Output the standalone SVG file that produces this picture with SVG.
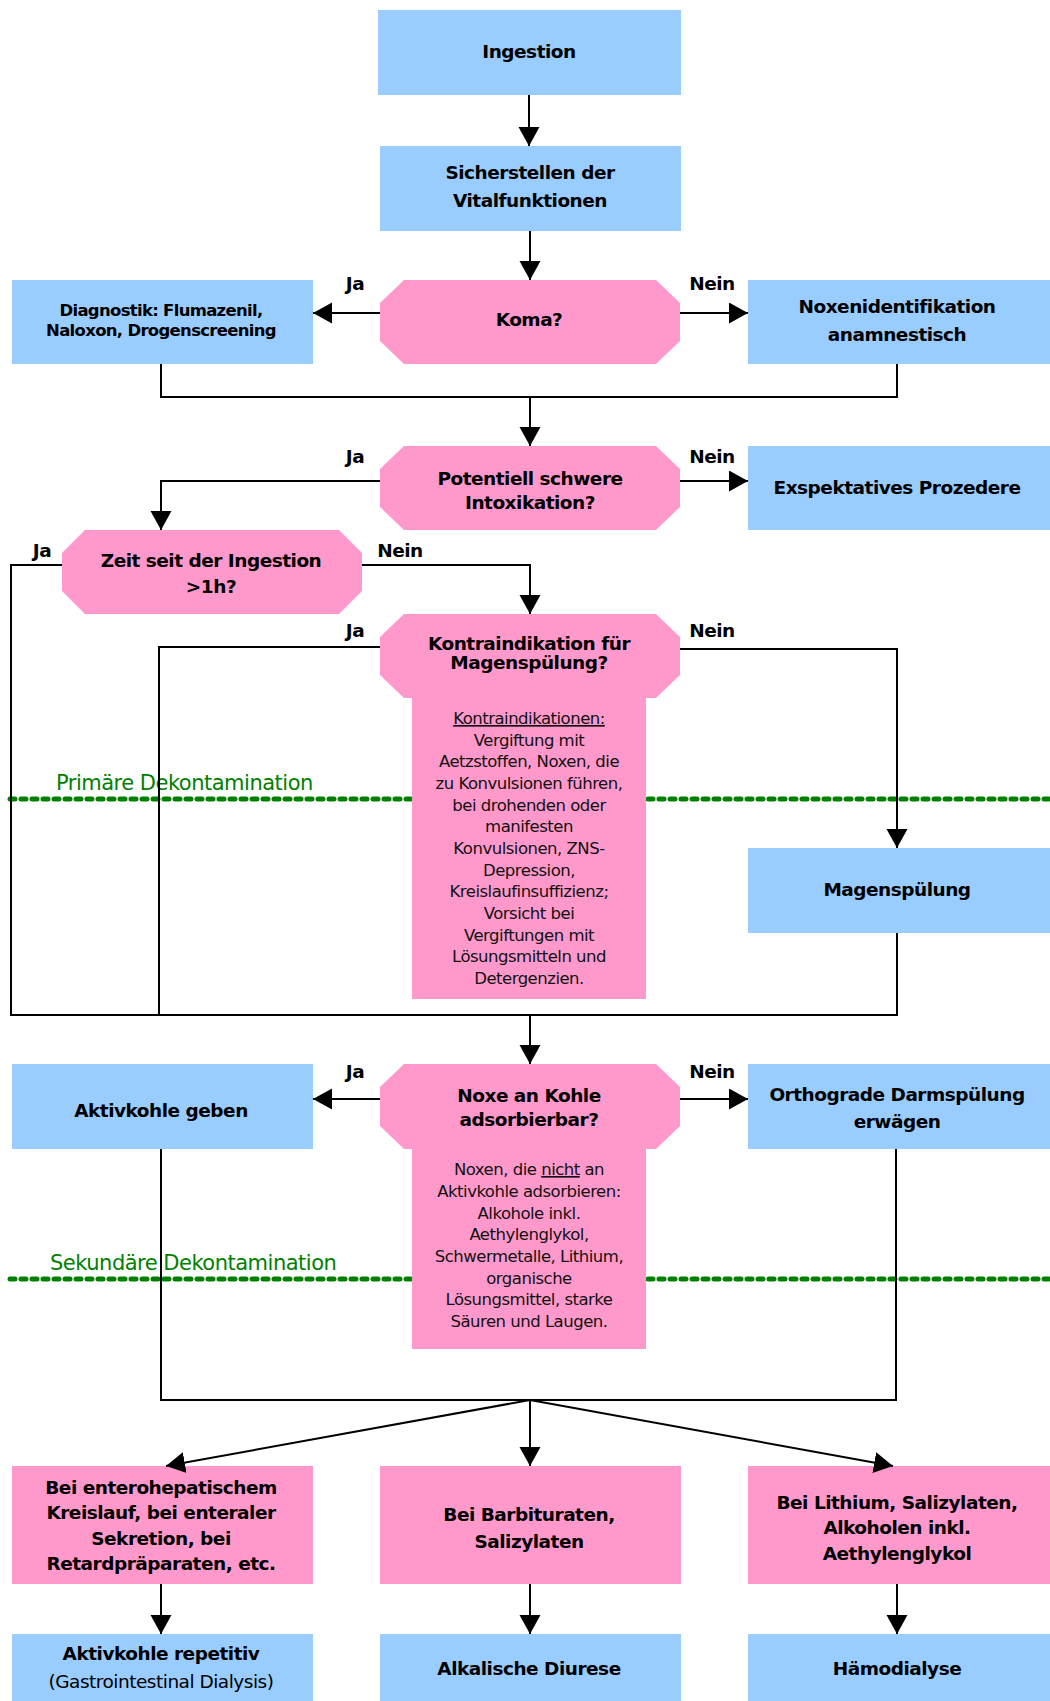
<svg xmlns="http://www.w3.org/2000/svg" width="1050" height="1701" viewBox="0 0 1050 1701">
<style>
.blue{fill:#99CCFF}
.pink{fill:#FF99CC}
.t{font-family:"DejaVu Sans","Liberation Sans",sans-serif;font-weight:bold;font-size:18.5px;letter-spacing:-0.5px;text-anchor:middle;fill:#000}
.m{font-size:16.5px;letter-spacing:-0.7px}
.s{font-family:"DejaVu Sans","Liberation Sans",sans-serif;font-size:16.5px;letter-spacing:-0.5px;text-anchor:middle;fill:#111}
.r{font-weight:normal}
.g{font-family:"DejaVu Sans","Liberation Sans",sans-serif;font-size:21px;letter-spacing:-0.5px;fill:#008000}
.ln{fill:none;stroke:#000;stroke-width:2}
.dot{fill:none;stroke:#008000;stroke-width:5;stroke-linecap:round;stroke-dasharray:5 6}
</style>
<defs>
<marker id="ah" markerUnits="userSpaceOnUse" markerWidth="20" markerHeight="22" refX="19" refY="10.5" orient="auto">
<path d="M0,0 L19,10.5 L0,21 Z" fill="#000"/>
</marker>
</defs>

<g id="separators">
<line class="dot" x1="10" y1="799" x2="1050" y2="799"/>
<text class="g" x="56" y="790">Primäre Dekontamination</text>
<line class="dot" x1="10" y1="1279" x2="1050" y2="1279"/>
<text class="g" x="50" y="1270">Sekundäre Dekontamination</text>
</g>

<g id="n-ingestion"><rect class="blue" x="378" y="10" width="303" height="85"/><text class="t" x="529" y="58">Ingestion</text></g>
<g id="n-vital"><rect class="blue" x="380" y="146" width="301" height="85"/><text class="t" x="530" y="179">Sicherstellen der</text><text class="t" x="530" y="207">Vitalfunktionen</text></g>
<g id="n-koma"><polygon class="pink" points="404,280 656,280 680,303 680,341 656,364 404,364 380,341 380,303"/><text class="t" x="529" y="326">Koma?</text></g>
<g id="n-diagnostik"><rect class="blue" x="12" y="280" width="301" height="84"/><text class="t m" x="161" y="316">Diagnostik: Flumazenil,</text><text class="t m" x="161" y="336">Naloxon, Drogenscreening</text></g>
<g id="n-noxenid"><rect class="blue" x="748" y="280" width="302" height="84"/><text class="t" x="897" y="313">Noxenidentifikation</text><text class="t" x="897" y="341">anamnestisch</text></g>
<g id="n-potentiell"><polygon class="pink" points="404,446 656,446 680,469 680,507 656,530 404,530 380,507 380,469"/><text class="t" x="530" y="485">Potentiell schwere</text><text class="t" x="530" y="509">Intoxikation?</text></g>
<g id="n-exspektativ"><rect class="blue" x="748" y="446" width="302" height="84"/><text class="t" x="897" y="494">Exspektatives Prozedere</text></g>
<g id="n-zeit"><polygon class="pink" points="85,530 339,530 362,553 362,591 339,614 85,614 62,591 62,553"/><text class="t" x="211" y="567">Zeit seit der Ingestion</text><text class="t" x="211" y="593">&gt;1h?</text></g>
<g id="n-kontra">
<polygon class="pink" points="404,614 656,614 680,637 680,675 656,698 404,698 380,675 380,637"/>
<rect class="pink" x="412" y="697" width="234" height="302"/>
<text class="t" x="529" y="650">Kontraindikation für</text><text class="t" x="529" y="669">Magenspülung?</text>
<text class="s" x="529" y="724"><tspan text-decoration="underline">Kontraindikationen:</tspan></text>
<text class="s" x="529" y="746">Vergiftung mit</text>
<text class="s" x="529" y="767">Aetzstoffen, Noxen, die</text>
<text class="s" x="529" y="789">zu Konvulsionen führen,</text>
<text class="s" x="529" y="811">bei drohenden oder</text>
<text class="s" x="529" y="832">manifesten</text>
<text class="s" x="529" y="854">Konvulsionen, ZNS-</text>
<text class="s" x="529" y="876">Depression,</text>
<text class="s" x="529" y="897">Kreislaufinsuffizienz;</text>
<text class="s" x="529" y="919">Vorsicht bei</text>
<text class="s" x="529" y="941">Vergiftungen mit</text>
<text class="s" x="529" y="962">Lösungsmitteln und</text>
<text class="s" x="529" y="984">Detergenzien.</text>
</g>
<g id="n-magen"><rect class="blue" x="748" y="848" width="302" height="85"/><text class="t" x="897" y="896">Magenspülung</text></g>
<g id="n-noxe">
<polygon class="pink" points="404,1064 656,1064 680,1087 680,1126 656,1149 404,1149 380,1126 380,1087"/>
<rect class="pink" x="412" y="1148" width="234" height="201"/>
<text class="t" x="529" y="1102">Noxe an Kohle</text><text class="t" x="529" y="1126">adsorbierbar?</text>
<text class="s" x="529" y="1175">Noxen, die <tspan text-decoration="underline">nicht</tspan> an</text>
<text class="s" x="529" y="1197">Aktivkohle adsorbieren:</text>
<text class="s" x="529" y="1219">Alkohole inkl.</text>
<text class="s" x="529" y="1240">Aethylenglykol,</text>
<text class="s" x="529" y="1262">Schwermetalle, Lithium,</text>
<text class="s" x="529" y="1284">organische</text>
<text class="s" x="529" y="1305">Lösungsmittel, starke</text>
<text class="s" x="529" y="1327">Säuren und Laugen.</text>
</g>
<g id="n-aktivkohle"><rect class="blue" x="12" y="1064" width="301" height="85"/><text class="t" x="161" y="1117">Aktivkohle geben</text></g>
<g id="n-orthograde"><rect class="blue" x="748" y="1064" width="302" height="85"/><text class="t" x="897" y="1101">Orthograde Darmspülung</text><text class="t" x="897" y="1128">erwägen</text></g>
<g id="n-entero"><rect class="pink" x="12" y="1466" width="301" height="118"/><text class="t" x="161" y="1494">Bei enterohepatischem</text><text class="t" x="161" y="1519">Kreislauf, bei enteraler</text><text class="t" x="161" y="1545">Sekretion, bei</text><text class="t" x="161" y="1570">Retardpräparaten, etc.</text></g>
<g id="n-barbi"><rect class="pink" x="380" y="1466" width="301" height="118"/><text class="t" x="529" y="1521">Bei Barbituraten,</text><text class="t" x="529" y="1548">Salizylaten</text></g>
<g id="n-lithium"><rect class="pink" x="748" y="1466" width="302" height="118"/><text class="t" x="897" y="1509">Bei Lithium, Salizylaten,</text><text class="t" x="897" y="1534">Alkoholen inkl.</text><text class="t" x="897" y="1560">Aethylenglykol</text></g>
<g id="n-repetitiv"><rect class="blue" x="12" y="1634" width="301" height="67"/><text class="t" x="161" y="1660">Aktivkohle repetitiv</text><text class="t r" x="161" y="1688">(Gastrointestinal Dialysis)</text></g>
<g id="n-diurese"><rect class="blue" x="380" y="1634" width="301" height="67"/><text class="t" x="529" y="1675">Alkalische Diurese</text></g>
<g id="n-haemo"><rect class="blue" x="748" y="1634" width="302" height="67"/><text class="t" x="897" y="1675">Hämodialyse</text></g>

<g id="connectors">
<line class="ln" x1="529" y1="95" x2="529" y2="146" marker-end="url(#ah)"/>
<line class="ln" x1="530" y1="231" x2="530" y2="280" marker-end="url(#ah)"/>
<line class="ln" x1="380" y1="313" x2="313" y2="313" marker-end="url(#ah)"/>
<line class="ln" x1="680" y1="313" x2="748" y2="313" marker-end="url(#ah)"/>
<polyline class="ln" points="161,364 161,397 897,397 897,364"/>
<line class="ln" x1="530" y1="397" x2="530" y2="446" marker-end="url(#ah)"/>
<polyline class="ln" points="380,481 161,481 161,530" marker-end="url(#ah)"/>
<line class="ln" x1="680" y1="481" x2="748" y2="481" marker-end="url(#ah)"/>
<polyline class="ln" points="362,565 530,565 530,614" marker-end="url(#ah)"/>
<polyline class="ln" points="62,565 11,565 11,1015 897,1015 897,933"/>
<polyline class="ln" points="380,647 159,647 159,1015"/>
<polyline class="ln" points="680,649 897,649 897,848" marker-end="url(#ah)"/>
<line class="ln" x1="530" y1="1015" x2="530" y2="1064" marker-end="url(#ah)"/>
<line class="ln" x1="380" y1="1099" x2="313" y2="1099" marker-end="url(#ah)"/>
<line class="ln" x1="680" y1="1099" x2="748" y2="1099" marker-end="url(#ah)"/>
<polyline class="ln" points="161,1149 161,1400 896,1400 896,1149"/>
<line class="ln" x1="530" y1="1400" x2="166" y2="1466" marker-end="url(#ah)"/>
<line class="ln" x1="530" y1="1400" x2="530" y2="1466" marker-end="url(#ah)"/>
<line class="ln" x1="530" y1="1400" x2="893" y2="1466" marker-end="url(#ah)"/>
<line class="ln" x1="161" y1="1584" x2="161" y2="1634" marker-end="url(#ah)"/>
<line class="ln" x1="530" y1="1584" x2="530" y2="1634" marker-end="url(#ah)"/>
<line class="ln" x1="897" y1="1584" x2="897" y2="1634" marker-end="url(#ah)"/>
</g>

<g id="labels">
<text class="t" x="355" y="290">Ja</text><text class="t" x="712" y="290">Nein</text>
<text class="t" x="355" y="463">Ja</text><text class="t" x="712" y="463">Nein</text>
<text class="t" x="42" y="557">Ja</text><text class="t" x="400" y="557">Nein</text>
<text class="t" x="355" y="637">Ja</text><text class="t" x="712" y="637">Nein</text>
<text class="t" x="355" y="1078">Ja</text><text class="t" x="712" y="1078">Nein</text>
</g>
</svg>
